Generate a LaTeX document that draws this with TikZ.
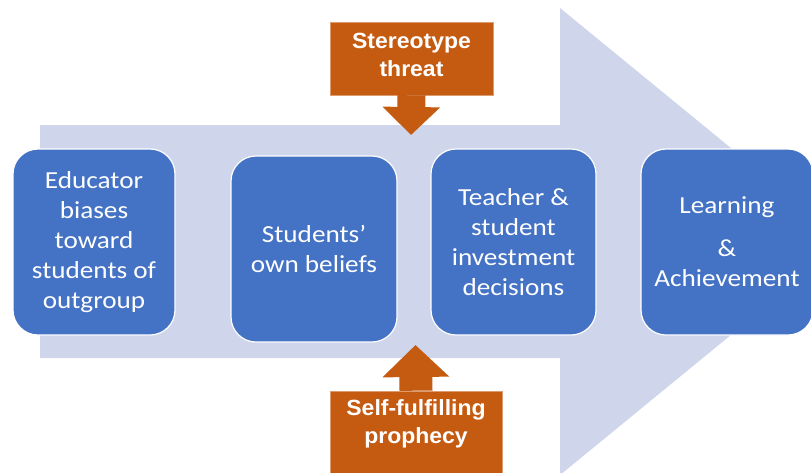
\documentclass[tikz,border=0pt]{standalone}
\usepackage{fontspec}
\setmainfont{Carlito}[FakeStretch=1.11]
\newfontfamily\labelfont{Liberation Sans}[FakeStretch=1.045]
\usetikzlibrary{arrows.meta}
\definecolor{stageblue}{HTML}{4472C4}
\definecolor{flowlav}{HTML}{CFD5EA}
\definecolor{effectorange}{HTML}{C55A11}

\begin{document}
\begin{tikzpicture}
  [x=1pt,y=-1pt,
   stage/.style={rectangle,rounded corners=25pt,draw=white,line width=1.2pt,
                 fill=stageblue,text=white,align=center,inner sep=0,
                 font=\fontsize{24.5}{30}\selectfont},
   effectbox/.style={rectangle,fill=effectorange,draw=effectorange!60!white,
                     line width=0.6pt,inner sep=0},
   effect/.style={text=white,align=center,inner sep=0,
                  font=\labelfont\bfseries\fontsize{22}{28}\selectfont}]
  \clip (0,0) rectangle (811,472);
  % background flow arrow
  \fill[flowlav] (40,125) -- (560,125) -- (560,8) -- (845,241.5)
    -- (560,475) -- (560,358) -- (40,358) -- cycle;
  \node[stage,minimum width=162pt,minimum height=186pt] (bias) at (94,242)
    {Educator\\biases\\toward\\students of\\outgroup};
  \node[stage,minimum width=166pt,minimum height=186pt] (belief) at (314,249)
    {Students'\\own beliefs};
  \node[stage,minimum width=165pt,minimum height=186pt] (invest) at (513.5,242)
    {Teacher \&\\student\\investment\\decisions};
  \node[stage,minimum width=172pt,minimum height=186pt] (learn) at (727,242)
    {Learning\\[13pt]\&\\Achievement};
  % effects
  \node[effectbox,minimum width=163pt,minimum height=73pt] (threatbox) at (411.5,58.5) {};
  \node[effect] (threat) at (411.5,55) {Stereotype\\threat};
  \node[effectbox,minimum width=172pt,minimum height=100pt] (prophecybox) at (416,441) {};
  \node[effect] (prophecy) at (416,424) {Self-fulfilling\\prophecy};
  \coordinate (threattip) at (411,135);
  \coordinate (prophecytip) at (415.5,345);
  \draw[effectorange,line width=28pt,-{Triangle[width=56pt,length=28pt]}]
    (threatbox.south) to (threattip);
  \draw[effectorange,line width=33pt,-{Triangle[width=65pt,length=32pt]}]
    (prophecybox.north) to (prophecytip);
\end{tikzpicture}
\end{document}
